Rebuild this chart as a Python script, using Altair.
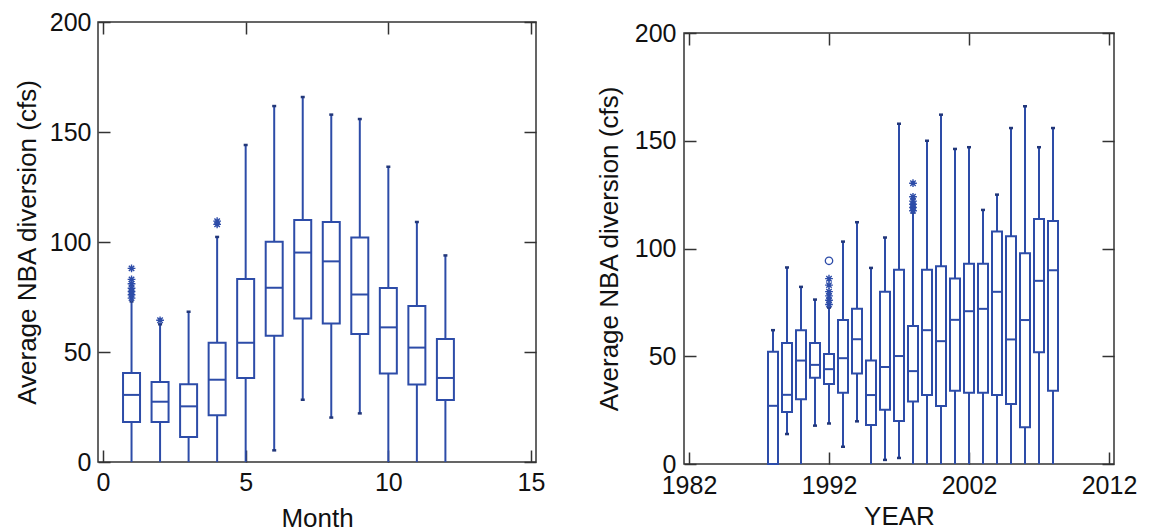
import altair as alt
import pandas as pd

BLUE = "#2d4ca8"
CAPC = "#22377a"
FRAME = "#333333"
FONT = "Liberation Sans"
ASTERISK = "M-1,0L1,0M0,-1L0,1M-0.7,-0.7L0.7,0.7M-0.7,0.7L0.7,-0.7"

# ---------------- left panel: by month ----------------
months = list(range(1, 13))
m_low = [0, 0, 0, 0, 0, 5.3, 28.3, 20.2, 22.1, 0, 0, 0]
m_q1 = [18.2, 18.2, 11.4, 21.2, 38.2, 57.4, 65.2, 63.0, 58.2, 40.2, 35.2, 28.2]
m_med = [30.5, 27.4, 25.3, 37.4, 54.2, 79.2, 95.2, 91.2, 76.1, 61.2, 52.0, 38.2]
m_q3 = [40.5, 36.4, 35.3, 54.2, 83.2, 100.1, 110.0, 109.1, 102.0, 79.1, 70.9, 55.9]
m_high = [73.0, 62.6, 68.3, 102.3, 144.1, 161.8, 165.9, 157.9, 155.9, 134.2, 109.1, 93.9]
m_out_x = [1, 1, 1, 1, 1, 1, 1, 2, 4, 4]
m_out_y = [74.5, 76.0, 77.5, 79.0, 81.0, 83.0, 88.0, 64.4, 108.0, 109.5]
m_circ_x = []
m_circ_y = []

# ---------------- right panel: by year ----------------
years = list(range(1988, 2009))
y_low = [0, 13.9, 0, 17.8, 18.8, 8.0, 19.8, 0, 1.9, 2.8, 0, 0, 0, 0, 0, 0, 0, 0, 0, 0, 0]
y_q1 = [0, 24.1, 30.0, 40.0, 37.1, 33.1, 42.0, 18.1, 25.2, 19.9, 29.0, 32.0, 26.9,
        34.0, 33.1, 33.1, 32.0, 27.8, 17.0, 51.9, 34.0]
y_med = [27.0, 32.1, 48.0, 46.0, 44.0, 49.1, 57.9, 32.0, 45.0, 50.1, 43.1, 62.1, 57.0,
         66.9, 70.9, 72.0, 79.9, 57.8, 66.8, 85.0, 89.9]
y_q3 = [52.1, 56.1, 62.1, 56.1, 51.0, 66.8, 72.0, 48.0, 79.9, 90.1, 64.0, 90.1, 91.8,
        86.1, 92.9, 92.9, 107.9, 105.7, 97.8, 113.7, 112.8]
y_high = [62.1, 91.2, 82.2, 76.3, 72.6, 103.2, 112.2, 91.0, 105.1, 157.9, 116.7, 150.0,
          162.1, 146.2, 147.0, 117.9, 125.0, 155.9, 166.0, 147.0, 155.9]
y_out_x = [1992, 1992, 1992, 1992, 1992, 1992, 1998, 1998, 1998, 1998, 1998, 1998]
y_out_y = [74.0, 76.0, 78.0, 80.0, 83.0, 86.0, 117.5, 119.0, 120.5, 122.0, 124.0, 130.3]
y_circ_x = [1992]
y_circ_y = [94.3]

y_ticks = [0, 50, 100, 150, 200]
Y_TITLE = "Average NBA diversion (cfs)"


def panel(xs, low, q1, med, q3, high, ox, oy, cx, cy, xdomain, xticks, xtitle,
          width, height, box_px, lab_pad_x, title_pad_x, lab_pad_y, title_pad_y):
    df = pd.DataFrame({"x": xs, "low": low, "q1": q1, "med": med, "q3": q3, "high": high})
    caps_hi = pd.DataFrame({"x": xs, "v": high})
    caps_lo = pd.DataFrame({"x": [a for a, b in zip(xs, low) if b > 0],
                            "v": [b for b in low if b > 0]})
    caps = pd.concat([caps_hi, caps_lo], ignore_index=True)
    outl = pd.DataFrame({"x": ox, "y": oy})
    circ = pd.DataFrame({"x": cx, "y": cy})

    xs_scale = alt.Scale(domain=xdomain, nice=False, zero=False)
    ys_scale = alt.Scale(domain=[0, 200], nice=False)

    main_x = alt.Axis(values=xticks, format="d", ticks=False, tickSize=0, domain=False,
                      grid=False, labelFlush=False, labelOverlap=False,
                      labelPadding=lab_pad_x, titlePadding=title_pad_x)
    main_y = alt.Axis(values=y_ticks, ticks=False, tickSize=0, domain=False, grid=False,
                      labelFlush=False, labelOverlap=False, labelPadding=lab_pad_y,
                      titlePadding=title_pad_y)

    def tick_axis(orient, values):
        return alt.Axis(orient=orient, offset=-12, tickSize=12, ticks=True, labels=False,
                        domain=False, grid=False, values=values, title=None,
                        tickColor=FRAME, tickWidth=1.5)

    base = alt.Chart(df)
    whisk_lo = base.mark_rule(color=BLUE, strokeWidth=2).encode(
        x=alt.X("x:Q", scale=xs_scale, axis=None),
        y=alt.Y("low:Q", scale=ys_scale, axis=None), y2="q1:Q")
    whisk_hi = base.mark_rule(color=BLUE, strokeWidth=2).encode(
        x=alt.X("x:Q", scale=xs_scale, axis=None),
        y=alt.Y("q3:Q", scale=ys_scale, axis=None), y2="high:Q")
    box = base.mark_bar(size=box_px, fill="white", stroke=BLUE, strokeWidth=2).encode(
        x=alt.X("x:Q", scale=xs_scale, axis=main_x, title=xtitle),
        y=alt.Y("q1:Q", scale=ys_scale, axis=main_y, title=Y_TITLE), y2="q3:Q")
    median = base.mark_tick(orient="horizontal", size=box_px, thickness=2, color=BLUE,
                            opacity=1).encode(
        x=alt.X("x:Q", scale=xs_scale, axis=None),
        y=alt.Y("med:Q", scale=ys_scale, axis=None))
    cap = alt.Chart(caps).mark_tick(orient="horizontal", size=4, thickness=2.5,
                                    color=CAPC, opacity=1).encode(
        x=alt.X("x:Q", scale=xs_scale, axis=None),
        y=alt.Y("v:Q", scale=ys_scale, axis=None))
    stars = alt.Chart(outl).mark_point(shape=ASTERISK, filled=False, size=60,
                                       strokeWidth=1.4, color=BLUE, opacity=1).encode(
        x=alt.X("x:Q", scale=xs_scale, axis=None),
        y=alt.Y("y:Q", scale=ys_scale, axis=None))
    layers = [whisk_lo, whisk_hi, box, median, cap, stars]
    if len(circ):
        layers.append(alt.Chart(circ).mark_point(shape="circle", filled=False, size=55,
                                                 strokeWidth=1.3, color=BLUE, opacity=1).encode(
            x=alt.X("x:Q", scale=xs_scale, axis=None),
            y=alt.Y("y:Q", scale=ys_scale, axis=None)))
    t1 = base.mark_point(opacity=0).encode(
        x=alt.X("x:Q", scale=xs_scale, axis=tick_axis("bottom", xticks)),
        y=alt.Y("med:Q", scale=ys_scale, axis=tick_axis("left", y_ticks)))
    t2 = base.mark_point(opacity=0).encode(
        x=alt.X("x:Q", scale=xs_scale, axis=tick_axis("top", xticks)),
        y=alt.Y("med:Q", scale=ys_scale, axis=tick_axis("right", y_ticks)))
    layers += [t1, t2]
    return alt.layer(*layers).resolve_axis(x="independent", y="independent").properties(
        width=width, height=height)


left = panel(months, m_low, m_q1, m_med, m_q3, m_high, m_out_x, m_out_y, m_circ_x, m_circ_y,
             [0, 15], [0, 5, 10, 15], "Month", 438, 440, 17, 8, 10, 7, 9)
right = panel(years, y_low, y_q1, y_med, y_q3, y_high, y_out_x, y_out_y, y_circ_x, y_circ_y,
              [1982, 2012], [1982, 1992, 2002, 2012], "YEAR", 430, 431, 10, 9, 5, 8, 12)

# invisible 1px strip above the right panel: it sets the right frame a little lower
spacer = alt.Chart(pd.DataFrame({"s": [0]})).mark_point(opacity=0).encode(
    x=alt.X("s:Q", axis=None), y=alt.Y("s:Q", axis=None)
).properties(width=430, height=1, view=alt.ViewBackground(stroke="transparent"))

chart = alt.hconcat(left, alt.vconcat(spacer, right, spacing=-6), spacing=49).properties(
    padding={"left": 5, "top": 1, "right": 0, "bottom": 0}
).configure(font=FONT).configure_view(
    stroke=FRAME, strokeWidth=1.5
).configure_axis(
    labelFontSize=25, titleFontSize=26, labelColor="#111111", titleColor="#111111",
    titleFontWeight="normal", labelFont=FONT, titleFont=FONT
)

chart.save("out.html", embed_options={"renderer": "svg", "actions": False})
